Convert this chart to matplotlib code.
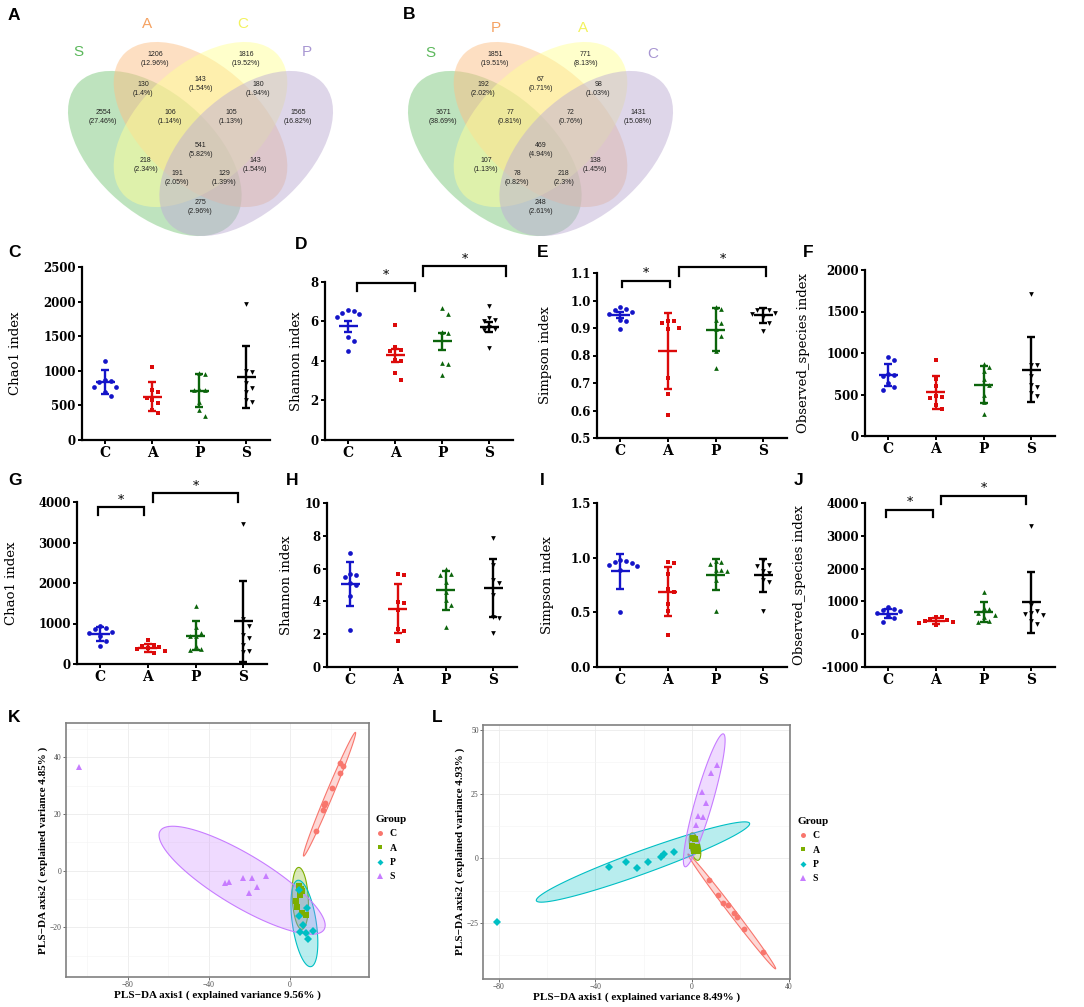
import numpy as np
import matplotlib
matplotlib.use('Agg')
import matplotlib.pyplot as plt
from matplotlib.patches import Ellipse
from matplotlib.lines import Line2D
from matplotlib.colors import to_rgba

W, H = 1084, 1007
fig = plt.figure(figsize=(W / 100, H / 100), dpi=100)

# ---------------------------------------------------------------- data
groups = ['C', 'A', 'P', 'S']

venn_A_sets = ['S', 'A', 'C', 'P']
venn_A_counts = [1206, 1816, 130, 143, 180, 2554, 106, 105, 1565, 541, 218, 143, 191, 129, 275]
venn_A_pct = ['12.96%', '19.52%', '1.4%', '1.54%', '1.94%', '27.46%', '1.14%', '1.13%',
              '16.82%', '5.82%', '2.34%', '1.54%', '2.05%', '1.39%', '2.96%']
venn_B_sets = ['S', 'P', 'A', 'C']
venn_B_counts = [1851, 771, 192, 67, 98, 3671, 77, 72, 1431, 469, 107, 138, 78, 218, 248]
venn_B_pct = ['19.51%', '8.13%', '2.02%', '0.71%', '1.03%', '38.69%', '0.81%', '0.76%',
              '15.08%', '4.94%', '1.13%', '1.45%', '0.82%', '2.3%', '2.61%']

chao1_r1 = [[1140, 870, 850, 840, 770, 760, 690, 640],
            [1050, 720, 700, 610, 580, 540, 430, 390],
            [965, 960, 730, 725, 720, 555, 430, 345],
            [1960, 1000, 980, 830, 750, 700, 580, 550]]
chao1_r1_mean = [833, 627, 715, 911]
chao1_r1_err = [175, 205, 240, 444]

shannon_r1 = [[6.6, 6.55, 6.45, 6.4, 6.25, 5.2, 5.0, 4.5],
              [5.8, 4.7, 4.55, 4.5, 4.05, 4.0, 3.4, 3.05],
              [6.7, 6.4, 5.45, 5.4, 3.9, 3.85, 3.3],
              [6.8, 6.2, 6.1, 6.05, 5.7, 5.6, 5.55, 4.65]]
shannon_r1_mean = [5.75, 4.28, 5.0, 5.72]
shannon_r1_err = [0.3, 0.31, 0.44, 0.23]

simpson_r1 = [[0.975, 0.97, 0.965, 0.96, 0.95, 0.93, 0.925, 0.895],
              [0.925, 0.925, 0.92, 0.9, 0.895, 0.72, 0.66, 0.585],
              [0.975, 0.97, 0.93, 0.92, 0.895, 0.87, 0.815, 0.755],
              [0.97, 0.965, 0.965, 0.955, 0.95, 0.94, 0.92, 0.89]]
simpson_r1_mean = [0.949, 0.817, 0.894, 0.946]
simpson_r1_err = [0.011, 0.139, 0.078, 0.027]

obs_r1 = [[950, 920, 750, 730, 720, 640, 590, 560],
          [920, 690, 600, 480, 470, 460, 370, 320],
          [870, 830, 780, 690, 610, 500, 410, 260],
          [1710, 860, 850, 720, 620, 590, 520, 480]]
obs_r1_mean = [730, 525, 620, 800]
obs_r1_err = [133, 197, 225, 393]

chao1_r2 = [[930, 880, 860, 800, 760, 680, 580, 440],
            [590, 460, 440, 420, 400, 380, 310, 270],
            [1440, 920, 760, 700, 680, 440, 360, 350],
            [3460, 1100, 950, 720, 650, 480, 320, 300]]
chao1_r2_mean = [740, 400, 700, 1050]
chao1_r2_err = [170, 100, 357, 1000]

shannon_r2 = [[6.95, 5.65, 5.6, 5.5, 5.1, 5.0, 4.35, 2.25],
              [5.7, 5.6, 3.95, 3.9, 3.5, 2.3, 2.2, 1.6],
              [6.0, 5.7, 5.6, 5.2, 4.6, 4.1, 3.8, 2.45],
              [7.85, 6.2, 5.3, 5.15, 4.4, 3.05, 3.0, 2.1]]
shannon_r2_mean = [5.05, 3.55, 4.68, 4.8]
shannon_r2_err = [1.35, 1.5, 1.2, 1.78]

simpson_r2 = [[0.98, 0.97, 0.96, 0.95, 0.93, 0.92, 0.89, 0.5],
              [0.96, 0.955, 0.85, 0.71, 0.69, 0.58, 0.51, 0.29],
              [0.97, 0.96, 0.94, 0.89, 0.885, 0.88, 0.8, 0.51],
              [0.965, 0.93, 0.925, 0.88, 0.86, 0.8, 0.78, 0.51]]
simpson_r2_mean = [0.875, 0.69, 0.845, 0.84]
simpson_r2_err = [0.16, 0.225, 0.145, 0.15]

obs_r2 = [[840, 780, 740, 700, 640, 560, 480, 380],
          [530, 510, 450, 420, 400, 380, 330, 280],
          [1300, 800, 760, 650, 600, 520, 400, 380],
          [3300, 900, 700, 640, 620, 600, 400, 300]]
obs_r2_mean = [630, 400, 670, 980]
obs_r2_err = [150, 80, 300, 930]

# PLS-DA scores (K)
K_C_x = [24.7, 26.3, 24.7, 20.6, 17.3, 17.0, 16.2, 12.7]
K_C_y = [37.9, 36.9, 34.6, 29.1, 24.0, 23.2, 21.4, 14.1]
K_A_x = [4.4, 6.1, 5.6, 2.8, 3.6, 5.8, 7.7, 4.9]
K_A_y = [-5.3, -7.2, -6.5, -10.7, -12.7, -15.0, -15.6, -8.5]
K_P_x = [4.4, 8.2, 6.6, 11.5, 4.9, 7.7, 9.0, 4.6]
K_P_y = [-16.0, -13.0, -19.2, -21.3, -21.8, -22.1, -24.2, -6.8]
K_S_x = [-104.0, -32.1, -30.0, -23.0, -18.9, -12.0, -16.5, -20.1]
K_S_y = [36.7, -4.5, -3.9, -2.5, -2.5, -1.9, -5.9, -7.8]
# PLS-DA scores (L)
L_C_x = [7.0, 10.9, 12.7, 15.0, 17.5, 18.8, 21.6, 29.3]
L_C_y = [-8.4, -14.4, -17.3, -18.3, -21.4, -22.8, -27.6, -36.3]
L_A_x = [0.3, 1.2, 0.0, 0.8, 1.8, 2.5, 1.0, 2.0]
L_A_y = [8.0, 7.5, 5.0, 4.0, 3.5, 3.0, 2.8, 4.5]
L_P_x = [-81.0, -34.3, -27.4, -22.7, -18.4, -13.0, -11.6, -7.3]
L_P_y = [-24.8, -3.2, -1.3, -3.9, -1.3, 0.5, 1.8, 2.5]
L_S_x = [10.5, 7.7, 4.0, 5.7, 2.6, 4.7, 1.7]
L_S_y = [36.3, 33.4, 26.0, 21.7, 16.5, 16.1, 13.0]

# ---------------------------------------------------------------- helpers
def fax(l, t, r, b):
    return fig.add_axes([l / W, 1 - b / H, (r - l) / W, (b - t) / H])


def letter(x, y, s):
    fig.text(x / W, 1 - y / H, s, fontsize=12.5, fontweight='bold',
             family='Liberation Sans', ha='left', va='baseline')


# ---------------------------------------------------------------- Venn
venn_fill = ['#7FC97F', '#FDC086', '#FFFF99', '#BEAED4']
venn_text = ['#5cb85c', '#f5a262', '#f2f25e', '#a896d2']
venn_ell = [(0.35, 0.47, -45), (0.50, 0.57, -45), (0.50, 0.57, 45), (0.65, 0.47, 45)]
venn_pos = [(0.351, 0.796), (0.649, 0.796), (0.311, 0.693), (0.500, 0.710), (0.689, 0.693),
            (0.180, 0.596), (0.400, 0.596), (0.600, 0.596), (0.820, 0.596), (0.500, 0.482),
            (0.321, 0.430), (0.679, 0.430), (0.423, 0.385), (0.577, 0.385), (0.500, 0.285)]


def venn(left_px, sets, counts, pcts, label_pos):
    ax = fax(left_px, 0, left_px + 304.6, 289.6)
    ax.set_xlim(0, 1)
    ax.set_ylim(0, 1)
    ax.axis('off')
    for (cx, cy, ang), col in zip(venn_ell, venn_fill):
        ax.add_patch(Ellipse((cx, cy), 0.70, 0.40, angle=ang, fc=to_rgba(col, 0.5), ec='none'))
    for (u, v), c, p in zip(venn_pos, counts, pcts):
        ax.text(u, v, f'{c}\n({p})', fontsize=5, ha='center', va='center',
                family='Liberation Sans', color='#222222', linespacing=1.35)
    for (u, v), s, col in zip(label_pos, sets, venn_text):
        ax.text(u, v, s, fontsize=11, ha='center', va='center', color=col,
                family='Liberation Sans')


venn(48.2, venn_A_sets, venn_A_counts, venn_A_pct,
     [(0.098, 0.820), (0.324, 0.917), (0.640, 0.917), (0.850, 0.820)])
venn(388.2, venn_B_sets, venn_B_counts, venn_B_pct,
     [(0.137, 0.817), (0.354, 0.903), (0.640, 0.903), (0.869, 0.813)])

# ---------------------------------------------------------------- dot plots
dot_colors = ['#1414c8', '#dc0a0a', '#0b640b', '#000000']
dot_markers = ['o', 's', '^', 'v']


def swarm(vals, yr, dx=0.12, thr=0.045):
    placed, offs = [], []
    order = [0, 1, -1, 2, -2, 3, -3]
    for v in vals:
        for c in order:
            ok = all(not (abs(c * dx - o) < dx * 0.9 and abs(v - pv) < thr * yr)
                     for o, pv in placed)
            if ok:
                break
        placed.append((c * dx, v))
        offs.append(c * dx)
    return offs


def dotplot(box, vals, means, errs, ylim, ticks, ticklabels, ylabel, lab_x, brackets=()):
    ax = fax(*box)
    l, t, r, b = box
    yr = ylim[1] - ylim[0]
    for i, (v, m, e) in enumerate(zip(vals, means, errs)):
        offs = swarm(v, yr)
        ax.plot(np.array(offs) + i, v, ls='none', marker=dot_markers[i], ms=3.4,
                color=dot_colors[i], mew=0, clip_on=False, zorder=3)
        ax.errorbar(i, m, yerr=e, color=dot_colors[i], lw=1.7, capsize=3.2,
                    capthick=1.7, zorder=4)
        ax.hlines(m, i - 0.2, i + 0.2, color=dot_colors[i], lw=1.7, zorder=4)
    ax.set_xlim(-0.49, 3.5)
    ax.set_ylim(*ylim)
    ax.set_yticks(ticks)
    ax.set_yticklabels(ticklabels)
    ax.set_xticks(range(4))
    ax.set_xticklabels(groups)
    for s in ['top', 'right']:
        ax.spines[s].set_visible(False)
    for s in ['left', 'bottom']:
        ax.spines[s].set_linewidth(1.6)
    ax.tick_params(axis='both', direction='out', length=3, width=1.4, pad=1.5)
    for lab in ax.get_yticklabels():
        lab.set_fontfamily('DejaVu Serif')
        lab.set_fontweight('bold')
        lab.set_fontsize(8.5)
    for lab in ax.get_xticklabels():
        lab.set_fontfamily('DejaVu Serif')
        lab.set_fontweight('bold')
        lab.set_fontsize(10)
    ax.set_ylabel(ylabel, family='DejaVu Serif', fontsize=9.5, va='center')
    ax.yaxis.set_label_coords((lab_x - l) / (r - l), 0.5)
    for x1, x2, ytop, ydrop in brackets:
        ax.plot([x1, x1, x2, x2], [ydrop, ytop, ytop, ydrop], color='black', lw=1.6,
                clip_on=False, solid_joinstyle='miter')
        ax.annotate('*', ((x1 + x2) / 2, ytop), xytext=(0, 0.5), textcoords='offset points',
                    ha='center', va='bottom', fontsize=9, family='DejaVu Serif',
                    annotation_clip=False)
    return ax


dotplot((82, 267, 270, 440), chao1_r1, chao1_r1_mean, chao1_r1_err, (0, 2500),
        [0, 500, 1000, 1500, 2000, 2500], ['0', '500', '1000', '1500', '2000', '2500'],
        'Chao1 index', 16)
dotplot((325, 282, 513, 440), shannon_r1, shannon_r1_mean, shannon_r1_err, (0, 8),
        [0, 2, 4, 6, 8], ['0', '2', '4', '6', '8'], 'Shannon index', 296,
        brackets=[(0.19, 1.42, 7.95, 7.55), (1.6, 3.35, 8.8, 8.3)])
dotplot((597, 273, 787, 438), simpson_r1, simpson_r1_mean, simpson_r1_err, (0.5, 1.1),
        [0.5, 0.6, 0.7, 0.8, 0.9, 1.0, 1.1], ['0.5', '0.6', '0.7', '0.8', '0.9', '1.0', '1.1'],
        'Simpson index', 546,
        brackets=[(0.04, 1.05, 1.071, 1.049), (1.23, 3.06, 1.122, 1.089)])
dotplot((865, 270, 1055, 436), obs_r1, obs_r1_mean, obs_r1_err, (0, 2000),
        [0, 500, 1000, 1500, 2000], ['0', '500', '1000', '1500', '2000'],
        'Observed_species index', 803)

dotplot((77, 502, 267, 664), chao1_r2, chao1_r2_mean, chao1_r2_err, (0, 4000),
        [0, 1000, 2000, 3000, 4000], ['0', '1000', '2000', '3000', '4000'],
        'Chao1 index', 12,
        brackets=[(-0.04, 0.92, 3870, 3673), (1.11, 2.9, 4214, 3993)])
dotplot((327, 503, 517, 667), shannon_r2, shannon_r2_mean, shannon_r2_err, (0, 10),
        [0, 2, 4, 6, 8, 10], ['0', '2', '4', '6', '8', '10'], 'Shannon index', 287)
dotplot((597, 503, 787, 667), simpson_r2, simpson_r2_mean, simpson_r2_err, (0, 1.5),
        [0, 0.5, 1.0, 1.5], ['0.0', '0.5', '1.0', '1.5'], 'Simpson index', 547)
dotplot((865, 503, 1055, 667), obs_r2, obs_r2_mean, obs_r2_err, (-1000, 4000),
        [-1000, 0, 1000, 2000, 3000, 4000], ['-1000', '0', '1000', '2000', '3000', '4000'],
        'Observed_species index', 800,
        brackets=[(-0.04, 0.94, 3790, 3580), (1.11, 2.89, 4220, 3980)])

# ---------------------------------------------------------------- PLS-DA
pls_colors = ['#F8766D', '#7CAE00', '#00BFC4', '#C77CFF']
pls_markers = ['o', 's', 'D', '^']
pls_ms = [4.2, 3.8, 3.6, 4.6]


def cov_trob(X, nu=6, maxit=25, tol=0.01):
    n, p = X.shape
    loc = X.mean(0)
    w = np.ones(n)
    Xc = X - loc
    for _ in range(maxit):
        w0 = w
        Xc = X - loc
        S = (w[:, None] * Xc).T @ Xc / w.sum()
        Q = np.einsum('ij,jk,ik->i', Xc, np.linalg.inv(S), Xc)
        w = (nu + p) / (nu + Q)
        loc = (w[:, None] * X).sum(0) / w.sum()
        if np.all(np.abs(w - w0) < tol):
            break
    cov = (w[:, None] * Xc).T @ Xc / n
    return loc, cov


def ellipse_pts(x, y, level=0.95, seg=101):
    X = np.column_stack([x, y]).astype(float)
    n = len(x)
    loc, cov = cov_trob(X)
    dfd = n - 1
    fq = dfd / 2 * ((1 - level) ** (-2 / dfd) - 1)
    rad = np.sqrt(2 * fq)
    Lc = np.linalg.cholesky(cov)
    t = np.linspace(0, 2 * np.pi, seg)
    pts = loc[:, None] + rad * Lc @ np.vstack([np.cos(t), np.sin(t)])
    return pts[0], pts[1]


def plsda(box, data, xlim, ylim, xmaj, xmin, ymaj, ymin, xlabel, ylabel, leg_xy):
    ax = fax(*box)
    ax.set_xlim(*xlim)
    ax.set_ylim(*ylim)
    ax.set_xticks(xmaj)
    ax.set_xticks(xmin, minor=True)
    ax.set_yticks(ymaj)
    ax.set_yticks(ymin, minor=True)
    ax.grid(True, which='major', color='#ebebeb', lw=0.6)
    ax.grid(True, which='minor', color='#f4f4f4', lw=0.4)
    ax.set_axisbelow(True)
    for s in ax.spines.values():
        s.set_color('#808080')
        s.set_linewidth(1.2)
    ax.tick_params(which='major', length=2.2, width=0.6, color='#555555', labelsize=5.5,
                   labelcolor='#4d4d4d', pad=1)
    ax.tick_params(which='minor', length=0)
    for lab in ax.get_xticklabels() + ax.get_yticklabels():
        lab.set_fontfamily('Liberation Serif')
    for (x, y), col in zip(data, pls_colors):
        ex, ey = ellipse_pts(x, y)
        ax.fill(ex, ey, fc=to_rgba(col, 0.28), ec=col, lw=0.8, zorder=2)
    handles = []
    for (x, y), col, mk, ms, g in zip(data, pls_colors, pls_markers, pls_ms, groups):
        ax.plot(x, y, ls='none', marker=mk, ms=ms, color=col, mew=0, zorder=3)
        handles.append(Line2D([], [], ls='none', marker=mk, ms=ms * 0.85, color=col, mew=0,
                              label=g))
    ax.set_xlabel(xlabel, family='Liberation Serif', fontweight='bold', fontsize=8, labelpad=1)
    ax.set_ylabel(ylabel, family='Liberation Serif', fontweight='bold', fontsize=8, labelpad=1)
    leg = ax.legend(handles=handles, title='Group', loc='upper left',
                    bbox_to_anchor=(leg_xy[0] / W, 1 - leg_xy[1] / H),
                    bbox_transform=fig.transFigure, frameon=False,
                    prop={'family': 'Liberation Serif', 'weight': 'bold', 'size': 7},
                    title_fontproperties={'family': 'Liberation Serif', 'weight': 'bold',
                                          'size': 8},
                    handlelength=1.0, handletextpad=0.5, labelspacing=0.55,
                    borderaxespad=0, borderpad=0)
    leg._legend_box.align = 'left'
    return ax


plsda((66, 723, 369, 977),
      [(K_C_x, K_C_y), (K_A_x, K_A_y), (K_P_x, K_P_y), (K_S_x, K_S_y)],
      (-110.6, 39.0), (-37.5, 52.1), [-80, -40, 0], [-100, -60, -20, 20],
      [-20, 0, 20, 40], [-30, -10, 10, 30, 50],
      'PLS\u2212DA axis1 ( explained variance 9.56% )',
      'PLS\u2212DA axis2 ( explained variance 4.85% )', (375, 815))
plsda((483, 725, 790, 978.5),
      [(L_C_x, L_C_y), (L_A_x, L_A_y), (L_P_x, L_P_y), (L_S_x, L_S_y)],
      (-86.6, 40.6), (-46.7, 51.9), [-80, -40, 0, 40], [-60, -20, 20],
      [-25, 0, 25, 50], [-37.5, -12.5, 12.5, 37.5],
      'PLS\u2212DA axis1 ( explained variance 8.49% )',
      'PLS\u2212DA axis2 ( explained variance 4.93% )', (798, 817))

# ---------------------------------------------------------------- letters
for x, y, s in [(8, 20, 'A'), (403, 19, 'B'), (8, 257, 'C'), (295, 249, 'D'),
                (537, 257, 'E'), (803, 257, 'F'), (8, 485, 'G'), (286, 485, 'H'),
                (540, 485, 'I'), (794, 485, 'J'), (8, 722, 'K'), (432, 722, 'L')]:
    letter(x, y, s)

fig.savefig('out.png', dpi=100)
